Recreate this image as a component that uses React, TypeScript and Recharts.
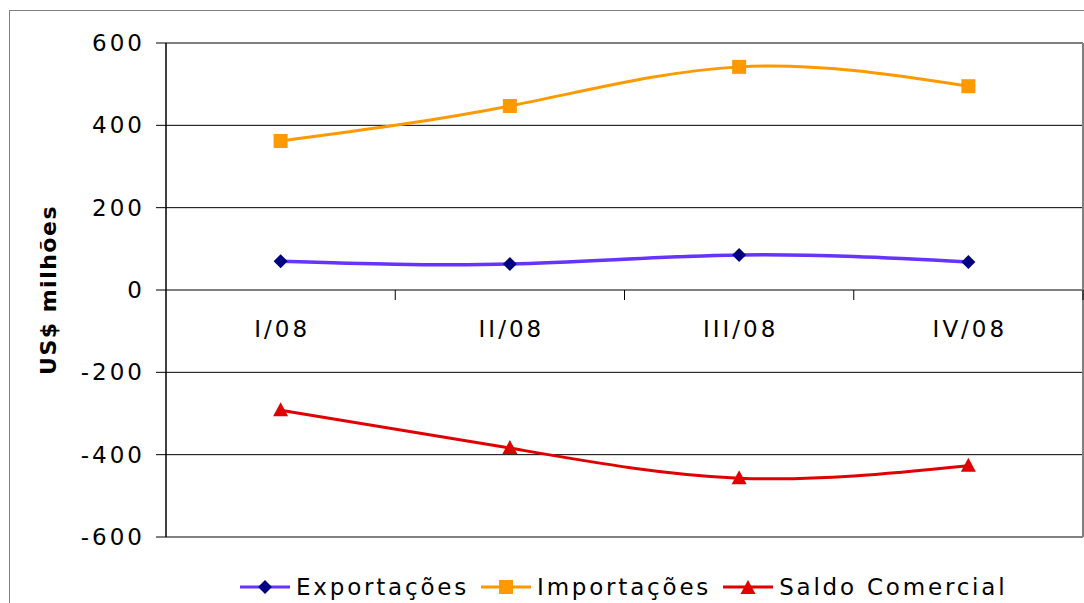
import React from "react";
import {
  LineChart,
  Line,
  XAxis,
  YAxis,
  CartesianGrid,
  ReferenceLine,
} from "recharts";

/** --- Data --- */
const quarters = ["I/08", "II/08", "III/08", "IV/08"];
const exportacoes = [70, 63, 85, 68];
const importacoes = [362, 447, 542, 495];
const saldoComercial = [-292, -384, -457, -427];
const yTicks = [-600, -400, -200, 0, 200, 400, 600];

const data = quarters.map((q, i) => ({
  idx: i,
  q,
  exp: exportacoes[i],
  imp: importacoes[i],
  saldo: saldoComercial[i],
}));

const FONT = "'DejaVu Sans', Verdana, sans-serif";
const EXP_LINE = "#6633FF";
const EXP_MARK = "#000080";
const IMP = "#FF9900";
const SALDO = "#E00000";

/** --- Markers --- */
const Diamond = ({ cx, cy }: any) =>
  cx == null || cy == null ? null : (
    <polygon
      points={`${cx},${cy - 7} ${cx + 7},${cy} ${cx},${cy + 7} ${cx - 7},${cy}`}
      fill={EXP_MARK}
    />
  );

const Square = ({ cx, cy }: any) =>
  cx == null || cy == null ? null : (
    <rect x={cx - 7} y={cy - 7} width={14} height={14} fill={IMP} />
  );

const Triangle = ({ cx, cy }: any) =>
  cx == null || cy == null ? null : (
    <polygon
      points={`${cx},${cy - 8} ${cx + 7.5},${cy + 6} ${cx - 7.5},${cy + 6}`}
      fill={SALDO}
    />
  );

/** --- Y tick --- */
const YTick = ({ x, y, payload }: any) => (
  <text
    x={x - 9}
    y={y}
    dy={8}
    textAnchor="end"
    fontFamily={FONT}
    fontSize={23}
    letterSpacing={3}
    fill="#000"
  >
    {payload.value}
  </text>
);

/** category axis drawn at y = 0, Excel style */
const ZeroAxis = (props: any) => {
  const { x1, x2, y1 } = props;
  if (x1 == null || x2 == null || y1 == null) return null;
  const w = (x2 - x1) / quarters.length;
  return (
    <g>
      <line x1={x1} x2={x2} y1={y1} y2={y1} stroke="#808080" strokeWidth={1.5} />
      {quarters.map((_, i) => (
        <line
          key={"t" + i}
          x1={x1 + (i + 1) * w}
          x2={x1 + (i + 1) * w}
          y1={y1}
          y2={y1 + 10}
          stroke="#000"
          strokeWidth={1}
        />
      ))}
      {quarters.map((q, i) => (
        <text
          key={q}
          x={x1 + (i + 0.5) * w + 1.5}
          y={y1 + 47}
          textAnchor="middle"
          fontFamily={FONT}
          fontSize={23}
          letterSpacing={3}
          fill="#000"
        >
          {q}
        </text>
      ))}
    </g>
  );
};

/** --- Legend --- */
const legendItems = [
  { name: "Exportações", line: EXP_LINE, marker: "diamond", color: EXP_MARK },
  { name: "Importações", line: IMP, marker: "square", color: IMP },
  { name: "Saldo Comercial", line: SALDO, marker: "triangle", color: SALDO },
];

const LegendIcon = ({ line, marker, color }: any) => (
  <svg width={50} height={20} style={{ marginRight: 6 }}>
    <line x1={0} x2={50} y1={10} y2={10} stroke={line} strokeWidth={3} />
    {marker === "diamond" && <Diamond cx={25} cy={10} />}
    {marker === "square" && (
      <rect x={18} y={3} width={14} height={14} fill={color} />
    )}
    {marker === "triangle" && <Triangle cx={25} cy={11} />}
  </svg>
);

/** --- Component --- */
export default function App() {
  return (
    <div style={{ position: "absolute", left: 0, top: 0, width: 1084, height: 603, background: "#fff", overflow: "hidden" }}>
      {/* chart area frame */}
      <div
        style={{
          position: "absolute",
          left: 9,
          top: 10,
          width: 1200,
          height: 700,
          border: "1.5px solid #808080",
          boxSizing: "border-box",
        }}
      />
      <div style={{ position: "absolute", left: 0, top: 0 }}>
        <LineChart
          width={1084}
          height={603}
          data={data}
          margin={{ top: 43, right: 1, bottom: 66, left: 66 }}
        >
          <CartesianGrid
            horizontal
            vertical={false}
            stroke="#000"
            strokeWidth={1}
          />
          <XAxis
            type="number"
            dataKey="idx"
            domain={[-0.5, quarters.length - 0.5]}
            hide
          />
          <YAxis
            type="number"
            domain={[-600, 600]}
            ticks={yTicks}
            interval={0}
            width={100}
            axisLine={{ stroke: "#000", strokeWidth: 1.5 }}
            tickLine={{ stroke: "#000" }}
            tickSize={10}
            tick={<YTick />}
            label={{
              value: "US$ milhões",
              angle: -90,
              position: "insideLeft",
              offset: -18,
              style: {
                fontFamily: FONT,
                fontSize: 22,
                fontWeight: "bold",
                letterSpacing: 1.5,
                fill: "#000",
                textAnchor: "middle",
              },
            }}
          />
          {/* plot area border: top / right / bottom */}
          <ReferenceLine y={600} stroke="#808080" strokeWidth={1.5} />
          <ReferenceLine y={-600} stroke="#808080" strokeWidth={1.5} />
          <ReferenceLine x={quarters.length - 0.5} stroke="#808080" strokeWidth={2} />
          <ReferenceLine y={0} shape={ZeroAxis} />
          <Line
            dataKey="exp"
            type="natural"
            stroke={EXP_LINE}
            strokeWidth={3.5}
            dot={<Diamond />}
            activeDot={false}
            isAnimationActive={false}
          />
          <Line
            dataKey="imp"
            type="natural"
            stroke={IMP}
            strokeWidth={3}
            dot={<Square />}
            activeDot={false}
            isAnimationActive={false}
          />
          <Line
            dataKey="saldo"
            type="natural"
            stroke={SALDO}
            strokeWidth={3}
            dot={<Triangle />}
            activeDot={false}
            isAnimationActive={false}
          />
        </LineChart>
      </div>
      {/* legend */}
      <div
        style={{
          position: "absolute",
          left: 240,
          top: 574,
          display: "flex",
          alignItems: "center",
          fontFamily: FONT,
          fontSize: 23,
          letterSpacing: 2.8,
          color: "#000",
          whiteSpace: "nowrap",
        }}
      >
        {legendItems.map((it) => (
          <div key={it.name} style={{ display: "flex", alignItems: "center", marginRight: 12 }}>
            <LegendIcon {...it} />
            <span>{it.name}</span>
          </div>
        ))}
      </div>
    </div>
  );
}
